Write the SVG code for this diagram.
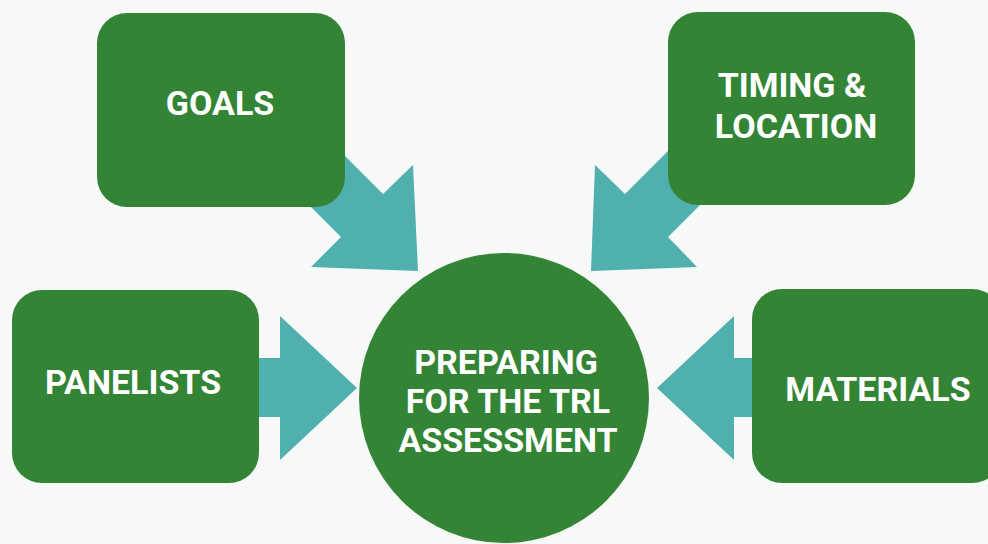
<svg xmlns="http://www.w3.org/2000/svg" width="988" height="544" viewBox="0 0 988 544">
<style>
.box{fill:#348436}
.arr{fill:#4fb0ad}
.t{fill:#ffffff;font-family:Roboto,"Liberation Sans",sans-serif;font-weight:bold;font-size:34px;text-anchor:middle}
</style>
<rect width="988" height="544" fill="#f7f9f9"/>
<g id="connectors">
<polygon class="arr" points="300,111 383,194 413,165 418,271 311,267 341,237 258,154"/>
<polygon class="arr" points="720,99 625,194 595,165 591,271 697,267 668,237 760,145"/>
<polygon class="arr" points="240,358 280,358 280,316 357,388 280,460 280,417 240,417"/>
<polygon class="arr" points="770,358 734,358 734,316 657,388 734,460 734,417 770,417"/>
</g>
<g id="goals"><rect class="box" x="97" y="13" width="248" height="194" rx="30"/><text class="t" x="220" y="115">GOALS</text></g>
<g id="timing"><rect class="box" x="668" y="12" width="247" height="193" rx="30"/><text class="t" x="792" y="97">TIMING &amp;</text><text class="t" x="796" y="138">LOCATION</text></g>
<g id="panelists"><rect class="box" x="12" y="290" width="247" height="193" rx="30"/><text class="t" x="133" y="394">PANELISTS</text></g>
<g id="materials"><rect class="box" x="752" y="289" width="250" height="194" rx="30"/><text class="t" x="878" y="401">MATERIALS</text></g>
<g id="center"><circle class="box" cx="504" cy="398" r="145"/><text class="t" x="506" y="374">PREPARING</text><text class="t" x="508" y="413">FOR THE TRL</text><text class="t" x="508" y="452">ASSESSMENT</text></g>
</svg>
